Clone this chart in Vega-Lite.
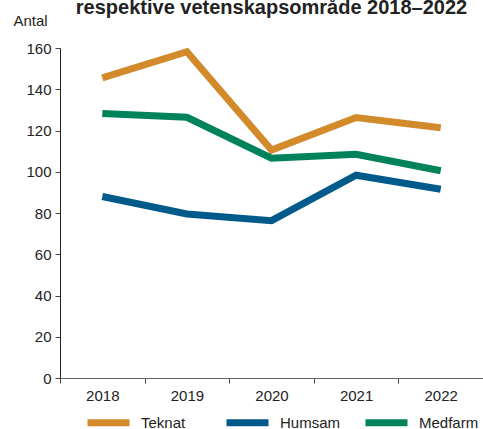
{
  "$schema": "https://vega.github.io/schema/vega-lite/v6.json",
  "width": 423,
  "height": 330,
  "autosize": {"type": "none"},
  "padding": {"left": 60, "top": 48, "right": 0, "bottom": 51},
  "title": {
    "text": "respektive vetenskapsområde 2018–2022",
    "font": "Liberation Sans",
    "fontSize": 20,
    "fontWeight": "bold",
    "color": "#222222",
    "anchor": "middle",
    "offset": -5
  },
  "config": {
    "view": {"stroke": null},
    "font": "Liberation Sans"
  },
  "data": {
    "values": [
      {"year": "2018", "area": "Teknat", "value": 145.5},
      {"year": "2019", "area": "Teknat", "value": 158.2},
      {"year": "2020", "area": "Teknat", "value": 110.5},
      {"year": "2021", "area": "Teknat", "value": 126.3},
      {"year": "2022", "area": "Teknat", "value": 121.3},
      {"year": "2018", "area": "Humsam", "value": 88},
      {"year": "2019", "area": "Humsam", "value": 79.5},
      {"year": "2020", "area": "Humsam", "value": 76.3},
      {"year": "2021", "area": "Humsam", "value": 98.3},
      {"year": "2022", "area": "Humsam", "value": 91.5},
      {"year": "2018", "area": "Medfarm", "value": 128.3},
      {"year": "2019", "area": "Medfarm", "value": 126.4},
      {"year": "2020", "area": "Medfarm", "value": 106.6},
      {"year": "2021", "area": "Medfarm", "value": 108.5},
      {"year": "2022", "area": "Medfarm", "value": 100.5}
    ]
  },
  "mark": {"type": "line", "strokeWidth": 7, "strokeJoin": "miter", "strokeCap": "butt"},
  "encoding": {
    "x": {
      "field": "year",
      "type": "ordinal",
      "scale": {"paddingInner": 0, "paddingOuter": 0},
      "axis": {
        "title": null,
        "labelAngle": 0,
        "labelFontSize": 15,
        "labelColor": "#222222",
        "labelPadding": 5,
        "domainColor": "#666666",
        "tickColor": "#444444",
        "tickBand": "extent",
        "tickSize": 5,
        "grid": false
      }
    },
    "y": {
      "field": "value",
      "type": "quantitative",
      "scale": {"domain": [0, 160], "nice": false},
      "axis": {
        "title": "Antal",
        "titleAngle": 0,
        "titleAlign": "left",
        "titleBaseline": "middle",
        "titleX": -47,
        "titleY": -28,
        "titleFontSize": 15,
        "titleFontWeight": "normal",
        "titleColor": "#222222",
        "values": [0, 20, 40, 60, 80, 100, 120, 140, 160],
        "labelFontSize": 15,
        "labelColor": "#222222",
        "labelPadding": 4,
        "domainColor": "#222222",
        "tickColor": "#444444",
        "tickSize": 5,
        "grid": false
      }
    },
    "color": {
      "field": "area",
      "type": "nominal",
      "sort": ["Teknat", "Humsam", "Medfarm"],
      "scale": {
        "domain": ["Teknat", "Humsam", "Medfarm"],
        "range": ["#d28a2b", "#005a8a", "#00835a"]
      },
      "legend": {
        "title": null,
        "orient": "none",
        "legendX": 24,
        "legendY": 350,
        "direction": "horizontal",
        "symbolType": "stroke",
        "symbolSize": 1764,
        "symbolStrokeWidth": 7,
        "labelFontSize": 15,
        "labelColor": "#222222",
        "labelOffset": 8,
        "gridAlign": "all",
        "columnPadding": 10
      }
    }
  }
}
